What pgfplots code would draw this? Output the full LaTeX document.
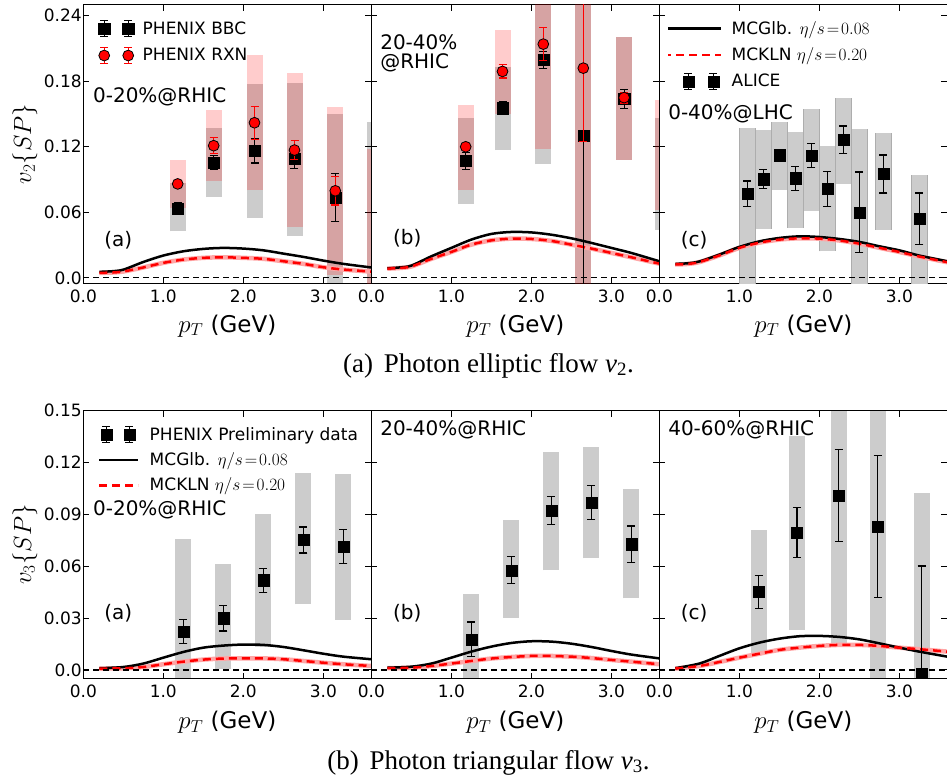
\documentclass[border=0pt]{standalone}
\usepackage[no-math]{fontspec}
\setmainfont{DejaVu Sans}
\newfontfamily\capfont{Liberation Serif}
\usepackage{pgfplots}
\usepackage{pgfplotstable}
\pgfplotsset{compat=1.18}

% ---------- top row data ----------
\pgfplotstableread{
x g k
0.2 0.0055 0.0046
0.35 0.0060 0.0048
0.5 0.0075 0.0058
0.75 0.0145 0.0095
1.0 0.0204 0.0137
1.25 0.0243 0.0167
1.5 0.0265 0.0183
1.75 0.0274 0.0188
2.0 0.0268 0.0183
2.25 0.0252 0.0174
2.5 0.0222 0.0152
2.75 0.0192 0.0128
3.0 0.0158 0.0097
3.25 0.0128 0.0076
3.6 0.0095 0.0057
}\taCurve
\pgfplotstableread{
x y e
1.18 0.0636 0.005
1.63 0.1054 0.0065
2.14 0.1161 0.011
2.64 0.1088 0.009
3.15 0.0734 0.022
}\taBBC
\pgfplotstableread{
x y e
1.18 0.0860 0.003
1.63 0.1210 0.0075
2.14 0.1420 0.015
2.64 0.1170 0.009
3.15 0.0797 0.013
}\taRXN
% systematic boxes: (x, low) (x, high), boxes separated by nan rows
\pgfplotstableread{
x y
1.18 0.0426
1.18 0.0868
nan nan
1.63 0.0736
1.63 0.1375
nan nan
2.14 0.0548
2.14 0.1774
nan nan
2.64 0.0386
2.64 0.1786
nan nan
3.15 -0.006
3.15 0.1503
nan nan
3.65 -0.006
3.65 0.1430
}\taBBCbox
\pgfplotstableread{
x y
1.18 0.0639
1.18 0.1078
nan nan
1.63 0.0889
1.63 0.1537
nan nan
2.14 0.0800
2.14 0.2040
nan nan
2.64 0.0466
2.64 0.1878
nan nan
3.15 0.0030
3.15 0.1564
nan nan
3.65 -0.006
3.65 0.1180
}\taRXNbox

\pgfplotstableread{
x g k
0.2 0.0087 0.0084
0.35 0.0095 0.0090
0.5 0.0112 0.0104
0.75 0.0197 0.0174
1.0 0.0274 0.0237
1.25 0.0350 0.0304
1.5 0.0402 0.0343
1.75 0.0420 0.0359
2.0 0.0416 0.0356
2.25 0.0395 0.0338
2.5 0.0362 0.0304
2.75 0.0320 0.0268
3.0 0.0274 0.0228
3.25 0.0228 0.0188
3.6 0.0152 0.0130
}\tbCurve
\pgfplotstableread{
x y e
1.18 0.1071 0.008
1.64 0.1553 0.006
2.15 0.1994 0.008
2.65 0.1300 0.300
3.16 0.1637 0.009
}\tbBBC
\pgfplotstableread{
x y e
1.18 0.1200 0.003
1.64 0.1890 0.006
2.15 0.2140 0.015
2.65 0.1920 0.067
3.16 0.1650 0.005
}\tbRXN
\pgfplotstableread{
x y
1.18 0.0676
1.18 0.1460
nan nan
1.64 0.1170
1.64 0.1930
nan nan
2.15 0.1040
2.15 0.2940
nan nan
2.65 -0.010
2.65 0.3000
nan nan
3.16 0.1080
3.16 0.2207
nan nan
3.65 0.0440
3.65 0.1460
}\tbBBCbox
\pgfplotstableread{
x y
1.18 0.0806
1.18 0.1580
nan nan
1.64 0.1500
1.64 0.2267
nan nan
2.15 0.1180
2.15 0.3100
nan nan
2.65 -0.010
2.65 0.3000
nan nan
3.16 0.1080
3.16 0.2207
nan nan
3.65 0.0624
3.65 0.1630
}\tbRXNbox

\pgfplotstableread{
x g k
0.2 0.0128 0.0122
0.35 0.0133 0.0127
0.5 0.0150 0.0144
0.75 0.0213 0.0205
1.0 0.0283 0.0274
1.25 0.0334 0.0322
1.5 0.0365 0.0350
1.75 0.0380 0.0362
2.0 0.0374 0.0359
2.25 0.0356 0.0342
2.5 0.0329 0.0313
2.75 0.0289 0.0275
3.0 0.0252 0.0237
3.25 0.0204 0.0195
3.6 0.0152 0.0143
}\tcCurve
\pgfplotstableread{
x y e
1.1 0.0770 0.0117
1.3 0.0904 0.0087
1.5 0.1123 0.0050
1.7 0.0913 0.0110
1.9 0.1117 0.0110
2.1 0.0813 0.0160
2.3 0.1263 0.0128
2.5 0.0600 0.0370
2.8 0.0950 0.0174
3.25 0.0540 0.0236
}\tcALICE
\pgfplotstableread{
x y
1.1 -0.010
1.1 0.1370
nan nan
1.3 0.0450
1.3 0.1354
nan nan
1.5 0.0806
1.5 0.1425
nan nan
1.7 0.0460
1.7 0.1336
nan nan
1.9 0.0608
1.9 0.1546
nan nan
2.1 0.0243
2.1 0.1210
nan nan
2.3 0.0858
2.3 0.1644
nan nan
2.5 -0.016
2.5 0.1363
nan nan
2.8 0.0441
2.8 0.1324
nan nan
3.25 -0.010
3.25 0.0943
}\tcBox

% ---------- bottom row data ----------
\pgfplotstableread{
x g k
0.2 0.0010 0.0008
0.5 0.0017 0.0010
0.75 0.0037 0.0017
1.0 0.0071 0.0033
1.25 0.0104 0.0048
1.5 0.0129 0.0060
1.75 0.0141 0.0066
2.0 0.0147 0.0067
2.25 0.0145 0.0067
2.5 0.0133 0.0062
2.75 0.0114 0.0052
3.0 0.0094 0.0042
3.25 0.0077 0.0033
3.6 0.0062 0.0023
}\baCurve
\pgfplotstableread{
x y e
1.25 0.0222 0.0070
1.75 0.0299 0.0074
2.25 0.0519 0.0070
2.75 0.0752 0.0075
3.25 0.0715 0.0098
}\baData
\pgfplotstableread{
x y
1.25 -0.010
1.25 0.0756
nan nan
1.75 0.0004
1.75 0.0615
nan nan
2.25 0.0134
2.25 0.0904
nan nan
2.75 0.0380
2.75 0.1137
nan nan
3.25 0.0289
3.25 0.1132
}\baBox

\pgfplotstableread{
x g k
0.2 0.0013 0.0010
0.5 0.0019 0.0013
0.75 0.0037 0.0023
1.0 0.0071 0.0037
1.25 0.0106 0.0052
1.5 0.0135 0.0066
1.75 0.0156 0.0075
2.0 0.0166 0.0081
2.25 0.0164 0.0081
2.5 0.0152 0.0077
2.75 0.0133 0.0069
3.0 0.0110 0.0058
3.25 0.0089 0.0048
3.6 0.0067 0.0033
}\bbCurve
\pgfplotstableread{
x y e
1.25 0.0177 0.0100
1.75 0.0576 0.0078
2.25 0.0923 0.0080
2.75 0.0968 0.0100
3.25 0.0727 0.0106
}\bbData
\pgfplotstableread{
x y
1.25 -0.010
1.25 0.0438
nan nan
1.75 0.0303
1.75 0.0868
nan nan
2.25 0.0576
2.25 0.1261
nan nan
2.75 0.0646
2.75 0.1292
nan nan
3.25 0.0414
3.25 0.1049
}\bbBox

\pgfplotstableread{
x g k
0.2 0.0010 0.0008
0.5 0.0037 0.0023
0.75 0.0081 0.0046
1.0 0.0125 0.0071
1.25 0.0158 0.0094
1.5 0.0181 0.0116
1.75 0.0195 0.0129
2.0 0.0197 0.0139
2.25 0.0191 0.0145
2.5 0.0177 0.0145
2.75 0.0154 0.0139
3.0 0.0129 0.0129
3.25 0.0106 0.0120
3.6 0.0077 0.0106
}\bcCurve
\pgfplotstableread{
x y e
1.24 0.0451 0.0094
1.72 0.0796 0.0144
2.24 0.1008 0.0265
2.73 0.0829 0.0410
3.28 -0.0025 0.0626
}\bcData
\pgfplotstableread{
x y
1.24 0.0091
1.24 0.0808
nan nan
1.72 0.0231
1.72 0.1353
nan nan
2.24 0.0152
2.24 0.1900
nan nan
2.73 -0.010
2.73 0.1900
nan nan
3.28 -0.010
3.28 0.1022
}\bcBox

\tikzset{lab/.style={anchor=west, inner sep=0pt, font=\fontsize{20}{24}\selectfont}}

\pgfplotsset{
  panel/.style={
    scale only axis, width=288pt,
    xmin=0, xmax=3.6, enlargelimits=false,
    xtick={0,1,2,3}, xticklabels={0.0,1.0,2.0,3.0},
    tick align=inside, major tick length=6pt,
    every tick/.style={black, line width=1pt},
    axis line style={line width=1.2pt},
    tick label style={font=\fontsize{17}{20}\selectfont},
    xticklabel style={yshift=-3pt},
    yticklabel style={xshift=2pt},
    /pgf/number format/assume math mode=true,
    clip marker paths=true,
    unbounded coords=jump,
    xlabel={$p_T$ (GeV)},
    every axis x label/.style={font=\fontsize{23}{27}\selectfont, anchor=base},
    every axis y label/.style={font=\fontsize{24}{28}\selectfont, rotate=90, anchor=center, at={(axis description cs:-0.2025,0.5)}},
    legend cell align=left,
  },
  toprow/.style={panel, height=278.5pt, ymin=-0.005, ymax=0.25,
     ytick={0,0.06,0.12,0.18,0.24},
     x label style={at={(axis description cs:0.5,-0.1749)}}},
  botrow/.style={panel, height=268pt, ymin=-0.005, ymax=0.15,
     ytick={0,0.03,0.06,0.09,0.12,0.15},
     x label style={at={(axis description cs:0.5,-0.188)}}},
  box/.style={draw=#1, draw opacity=0.2, line width=16pt, line cap=butt, mark=none, forget plot},
  sqdata/.style={only marks, mark=square*, mark size=5.6pt, black, forget plot,
     error bars/.cd, y dir=both, y explicit,
     error bar style={line width=1.2pt, black},
     error mark=-,
     error mark options={rotate=90, black, line width=1.2pt, mark size=4pt}},
  cidata/.style={only marks, mark=*, mark size=5.4pt, mark options={fill=red, draw=black, line width=0.8pt}, forget plot,
     error bars/.cd, y dir=both, y explicit,
     error bar style={line width=1.2pt, red},
     error mark=-,
     error mark options={rotate=90, red, line width=1.2pt, mark size=4pt}},
  band/.style={red!35, line width=4.5pt, smooth, forget plot},
  glb/.style={black, line width=2.5pt, smooth},
  kln/.style={red, line width=2.5pt, smooth, dash pattern=on 8pt off 5pt},
  zero/.style={black, line width=1.2pt, dash pattern=on 6pt off 4pt, forget plot},
}

\newcommand{\boxes}[2]{\addplot[box=#1] table[x=x, y=y] {#2};}
\newcommand{\curves}[1]{%
  \addplot[band] table[x=x,y=k] {#1};
  \addplot[glb, forget plot] table[x=x,y=g] {#1};
  \addplot[kln, forget plot] table[x=x,y=k] {#1};
  \addplot[zero] coordinates {(0,0) (3.6,0)};}

\begin{document}
\begin{tikzpicture}
\useasboundingbox (0pt,0pt) rectangle (947pt,-778pt);

% ================= TOP ROW =================
\begin{axis}[toprow, at={(83.3pt,-283.3pt)}, anchor=south west,
  yticklabels={0.0,0.06,0.12,0.18,0.24},
  ylabel={$v_2\{SP\}$},
  legend style={draw=none, fill=none, inner sep=0pt, at={(axis cs:0.184,0.2368)}, anchor=north west,
    font=\fontsize{17}{20}\selectfont, row sep=9pt, /tikz/every odd column/.append style={column sep=6.5pt}}]
\boxes{black}{\taBBCbox}
\boxes{red}{\taRXNbox}
\curves{\taCurve}
\addplot[sqdata] table[x=x,y=y,y error=e] {\taBBC};
\addplot[cidata] table[x=x,y=y,y error=e] {\taRXN};
\addlegendimage{legend image code/.code={
  \path[draw=none, fill=none] (0pt,-9pt) rectangle (36pt,9pt);
  \draw[black, solid, line width=1.2pt] (6pt,-8pt)--(6pt,8pt) (2pt,-8pt)--(10pt,-8pt) (2pt,8pt)--(10pt,8pt) (30pt,-8pt)--(30pt,8pt) (26pt,-8pt)--(34pt,-8pt) (26pt,8pt)--(34pt,8pt);
  \draw[black, solid, mark=square*, mark size=5.6pt] plot[only marks] coordinates {(6pt,0pt) (30pt,0pt)};}}
\addlegendentry{PHENIX BBC}
\addlegendimage{legend image code/.code={
  \path[draw=none, fill=none] (0pt,-9pt) rectangle (36pt,9pt);
  \draw[red, solid, line width=1.2pt] (6pt,-8pt)--(6pt,8pt) (2pt,-8pt)--(10pt,-8pt) (2pt,8pt)--(10pt,8pt) (30pt,-8pt)--(30pt,8pt) (26pt,-8pt)--(34pt,-8pt) (26pt,8pt)--(34pt,8pt);
  \draw[black, solid, line width=0.8pt, fill=red, mark=*, mark size=5.4pt, mark options={fill=red, draw=black}] plot[only marks] coordinates {(6pt,0pt) (30pt,0pt)};}}
\addlegendentry{PHENIX RXN}
\node[lab] at (axis cs:0.12,0.166) {0-20\%@RHIC};
\node[lab] at (axis cs:0.26,0.0346) {(a)};
\end{axis}

\begin{axis}[toprow, at={(371.3pt,-283.3pt)}, anchor=south west, yticklabels={}]
\boxes{black}{\tbBBCbox}
\boxes{red}{\tbRXNbox}
\curves{\tbCurve}
\addplot[sqdata] table[x=x,y=y,y error=e] {\tbBBC};
\addplot[cidata] table[x=x,y=y,y error=e] {\tbRXN};
\node[lab] at (axis cs:0.11,0.216) {20-40\%};
\node[lab] at (axis cs:0.11,0.1967) {@RHIC};
\node[lab] at (axis cs:0.27,0.0364) {(b)};
\end{axis}

\begin{axis}[toprow, at={(659.3pt,-283.3pt)}, anchor=south west, yticklabels={},
  legend style={draw=none, fill=none, inner sep=0pt, at={(axis cs:0.096,0.2368)}, anchor=north west,
    font=\fontsize{17}{20}\selectfont, row sep=8pt, /tikz/every odd column/.append style={column sep=7pt}}]
\addplot[draw=black!32, line width=16.5pt, line cap=butt, mark=none, forget plot] table[x=x, y=y] {\tcBox};
\addplot[draw=black!20, line width=14.5pt, line cap=butt, mark=none, forget plot] table[x=x, y=y] {\tcBox};
\addplot[band] table[x=x,y=k] {\tcCurve};
\addplot[glb, legend image code/.code={\path[draw=none, fill=none] (0pt,-9pt) rectangle (53pt,9pt); \draw[black, solid, line width=2.5pt] (0pt,0pt)--(53pt,0pt);}] table[x=x,y=g] {\tcCurve};
\addlegendentry{MCGlb. $\eta/s\!=\!0.08$}
\addplot[kln, legend image code/.code={\path[draw=none, fill=none] (0pt,-9pt) rectangle (53pt,9pt); \draw[red, line width=2.5pt, dash pattern=on 8pt off 5pt, dash phase=-8pt] (0pt,0pt)--(53pt,0pt);}] table[x=x,y=k] {\tcCurve};
\addlegendentry{MCKLN $\eta/s\!=\!0.20$}
\addplot[zero] coordinates {(0,0) (3.6,0)};
\addplot[sqdata] table[x=x,y=y,y error=e] {\tcALICE};
\addlegendimage{legend image code/.code={
  \path[draw=none, fill=none] (0pt,-9pt) rectangle (53pt,9pt);
  \draw[black, solid, line width=1.2pt] (20pt,-8pt)--(20pt,8pt) (16pt,-8pt)--(24pt,-8pt) (16pt,8pt)--(24pt,8pt) (45pt,-8pt)--(45pt,8pt) (41pt,-8pt)--(49pt,-8pt) (41pt,8pt)--(49pt,8pt);
  \draw[black, solid, mark=square*, mark size=5.6pt] plot[only marks] coordinates {(20pt,0pt) (45pt,0pt)};}}
\addlegendentry{ALICE}
\node[lab] at (axis cs:0.11,0.1506) {0-40\%@LHC};
\node[lab] at (axis cs:0.268,0.0346) {(c)};
\end{axis}

\node[anchor=base, font=\capfont\fontsize{27}{32}\selectfont] at (488.5pt,-372pt) {(a)\hspace{0.4em}Photon elliptic flow \textit{v}\textsubscript{2}.};

% ================= BOTTOM ROW =================
\begin{axis}[botrow, at={(83.3pt,-678.6pt)}, anchor=south west,
  yticklabels={0.0,0.03,0.06,0.09,0.12,0.15},
  ylabel={$v_3\{SP\}$},
  legend style={draw=none, fill=none, inner sep=0pt, at={(axis cs:0.184,0.1417)}, anchor=north west,
    font=\fontsize{17}{20}\selectfont, row sep=7pt, /tikz/every odd column/.append style={column sep=8pt}}]
\boxes{black}{\baBox}
\addplot[band] table[x=x,y=k] {\baCurve};
\addplot[sqdata] table[x=x,y=y,y error=e] {\baData};
\addlegendimage{legend image code/.code={
  \path[draw=none, fill=none] (0pt,-9pt) rectangle (39pt,9pt);
  \draw[black, solid, line width=1.2pt] (7pt,-8pt)--(7pt,8pt) (3pt,-8pt)--(11pt,-8pt) (3pt,8pt)--(11pt,8pt) (30pt,-8pt)--(30pt,8pt) (26pt,-8pt)--(34pt,-8pt) (26pt,8pt)--(34pt,8pt);
  \draw[black, solid, mark=square*, mark size=5.6pt] plot[only marks] coordinates {(7pt,0pt) (30pt,0pt)};}}
\addlegendentry{PHENIX Preliminary data}
\addplot[glb, legend image code/.code={\path[draw=none, fill=none] (0pt,-9pt) rectangle (39pt,9pt); \draw[black, solid, line width=2.5pt] (0pt,0pt)--(39pt,0pt);}] table[x=x,y=g] {\baCurve};
\addlegendentry{MCGlb. $\eta/s\!=\!0.08$}
\addplot[kln, legend image code/.code={\path[draw=none, fill=none] (0pt,-9pt) rectangle (39pt,9pt); \draw[red, line width=2.5pt, dash pattern=on 8pt off 5pt] (0pt,0pt)--(39pt,0pt);}] table[x=x,y=k] {\baCurve};
\addlegendentry{MCKLN $\eta/s\!=\!0.20$}
\addplot[zero] coordinates {(0,0) (3.6,0)};
\addplot[sqdata] table[x=x,y=y,y error=e] {\baData};
\node[lab] at (axis cs:0.12,0.0925) {0-20\%@RHIC};
\node[lab] at (axis cs:0.26,0.033) {(a)};
\end{axis}

\begin{axis}[botrow, at={(371.3pt,-678.6pt)}, anchor=south west, yticklabels={}]
\boxes{black}{\bbBox}
\curves{\bbCurve}
\addplot[sqdata] table[x=x,y=y,y error=e] {\bbData};
\node[lab] at (axis cs:0.11,0.1388) {20-40\%@RHIC};
\node[lab] at (axis cs:0.27,0.033) {(b)};
\end{axis}

\begin{axis}[botrow, at={(659.3pt,-678.6pt)}, anchor=south west, yticklabels={}]
\boxes{black}{\bcBox}
\curves{\bcCurve}
\addplot[sqdata] table[x=x,y=y,y error=e] {\bcData};
\node[lab] at (axis cs:0.11,0.1388) {40-60\%@RHIC};
\node[lab] at (axis cs:0.268,0.033) {(c)};
\end{axis}

\node[anchor=base, font=\capfont\fontsize{27}{32}\selectfont] at (488.5pt,-769pt) {(b)\hspace{0.4em}Photon triangular flow \textit{v}\textsubscript{3}.};
\end{tikzpicture}
\end{document}
